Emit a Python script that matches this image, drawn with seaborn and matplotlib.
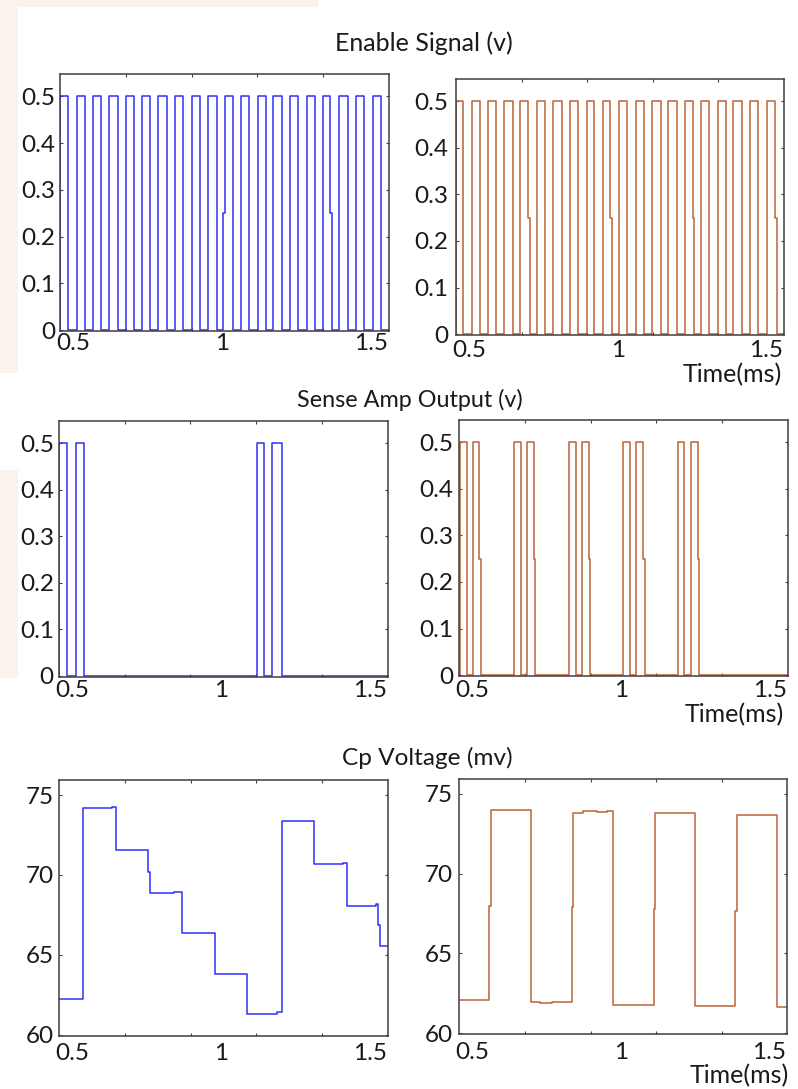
import matplotlib
matplotlib.use("Agg")
import matplotlib.pyplot as plt
import seaborn as sns
from matplotlib.patches import Rectangle
from matplotlib.ticker import FixedLocator

# ---------------- data (time in ms) ----------------
# Enable signal, left (blue)
enable_l_t = [0.455, 0.456, 0.483, 0.511, 0.539, 0.565, 0.593, 0.621, 0.649, 0.677, 0.705,
              0.729, 0.757, 0.785, 0.813, 0.841, 0.869, 0.897, 0.925, 0.953, 0.981,
              1.004, 1.010, 1.035, 1.063, 1.091, 1.119, 1.147, 1.172, 1.200, 1.228, 1.256,
              1.283, 1.311, 1.337, 1.362, 1.369, 1.393, 1.421, 1.449, 1.477, 1.505, 1.533, 1.560]
enable_l_v = [0, 0.5, 0, 0.5, 0, 0.5, 0, 0.5, 0, 0.5, 0,
              0.5, 0, 0.5, 0, 0.5, 0, 0.5, 0, 0.5, 0,
              0.25, 0.5, 0, 0.5, 0, 0.5, 0, 0.5, 0, 0.5, 0,
              0.5, 0, 0.5, 0.25, 0, 0.5, 0, 0.5, 0, 0.5, 0, 0]

# Enable signal, right (brown)
enable_r_t = [0.455, 0.456, 0.480, 0.508, 0.536, 0.562, 0.590, 0.618, 0.646, 0.671, 0.699, 0.705,
              0.727, 0.755, 0.783, 0.811, 0.839, 0.867, 0.895, 0.921, 0.949, 0.974, 0.980,
              1.005, 1.032, 1.061, 1.088, 1.116, 1.145, 1.170, 1.198, 1.226, 1.252, 1.258,
              1.280, 1.308, 1.337, 1.365, 1.389, 1.417, 1.445, 1.474, 1.502, 1.530, 1.536, 1.560]
enable_r_v = [0, 0.5, 0, 0.5, 0, 0.5, 0, 0.5, 0, 0.5, 0.25, 0,
              0.5, 0, 0.5, 0, 0.5, 0, 0.5, 0, 0.5, 0.25, 0,
              0.5, 0, 0.5, 0, 0.5, 0, 0.5, 0, 0.5, 0.25, 0,
              0.5, 0, 0.5, 0, 0.5, 0, 0.5, 0, 0.5, 0.25, 0, 0]

# Sense amp output, left (blue)
sense_l_t = [0.455, 0.456, 0.482, 0.513, 0.540, 1.119, 1.145, 1.172, 1.203, 1.560]
sense_l_v = [0, 0.5, 0, 0.5, 0, 0.5, 0, 0.5, 0, 0]

# Sense amp output, right (brown)
sense_r_t = [0.455, 0.456, 0.480, 0.500, 0.521, 0.527, 0.640, 0.661, 0.684, 0.706, 0.711,
             0.824, 0.847, 0.867, 0.891, 0.896, 1.006, 1.029, 1.050, 1.074, 1.080,
             1.190, 1.212, 1.234, 1.257, 1.263, 1.560]
sense_r_v = [0, 0.5, 0, 0.5, 0.25, 0, 0.5, 0, 0.5, 0.25, 0,
             0.5, 0, 0.5, 0.25, 0, 0.5, 0, 0.5, 0.25, 0,
             0.5, 0, 0.5, 0.25, 0, 0]

# Cp voltage, left (blue), mV
cp_l_t = [0.455, 0.538, 0.633, 0.647, 0.756, 0.761, 0.842, 0.867, 0.979, 1.087,
          1.186, 1.202, 1.311, 1.407, 1.420, 1.519, 1.527, 1.532, 1.560]
cp_l_v = [62.23, 74.17, 74.25, 71.56, 70.2, 68.88, 68.96, 66.38, 63.83, 61.31,
          61.40, 73.35, 70.67, 70.77, 68.06, 68.17, 66.9, 65.54, 65.54]

# Cp voltage, right (brown), mV
cp_r_t = [0.455, 0.556, 0.561, 0.696, 0.727, 0.766, 0.833, 0.838, 0.871, 0.918, 0.951,
          0.974, 1.111, 1.115, 1.249, 1.385, 1.389, 1.525, 1.560]
cp_r_v = [62.08, 68.0, 74.0, 61.95, 61.87, 61.95, 67.94, 73.83, 73.96, 73.9, 73.96,
          61.78, 67.76, 73.79, 61.68, 67.69, 73.68, 61.62, 61.62]

x_ticks = [0.5, 1, 1.5]
x_ticklabels = ["0.5", "1", "1.5"]
v_ticks = [0, 0.1, 0.2, 0.3, 0.4, 0.5]
v_ticklabels = ["0", "0.1", "0.2", "0.3", "0.4", "0.5"]
mv_ticks = [60, 65, 70, 75]
mv_ticklabels = ["60", "65", "70", "75"]

titles = ["Enable Signal (v)", "Sense Amp Output (v)", "Cp Voltage (mv)"]
title_sizes = [18, 16.8, 17.6]
xlabel_text = "Time(ms)"

# ---------------- style ----------------
sns.set_style("white")
plt.rcParams['font.family'] = ['Lato', 'DejaVu Sans']

BLUE = "#2f2fff"
BROWN = "#bd6238"
FRAME = "#3f3f3f"
TXT = "#1a1a1a"
XLIM = (0.455, 1.56)
FS_TICK = 17.5

W, H = 798, 1089
fig = plt.figure(figsize=(W / 100, H / 100), dpi=100)
fig.patch.set_facecolor("white")

# faint slide background
PEACH = "#fcf2ed"
def px_rect(x0, y0, x1, y1):
    fig.add_artist(Rectangle((x0 / W, 1 - y1 / H), (x1 - x0) / W, (y1 - y0) / H,
                             transform=fig.transFigure, facecolor=PEACH,
                             edgecolor="none", zorder=0))
px_rect(0, 0, 318, 7)
px_rect(0, 0, 18, 373)
px_rect(0, 470, 18, 678)


def panel(box, t, v, color, ylim, yt, ytl, xpad, ypad):
    x0, y0, x1, y1 = box
    ax = fig.add_axes([x0 / W, 1 - y1 / H, (x1 - x0) / W, (y1 - y0) / H])
    sns.lineplot(x=t, y=v, ax=ax, color=color, drawstyle="steps-post",
                 estimator=None, sort=False, linewidth=1.1, legend=False)
    ax.set_xlim(XLIM)
    ax.set_ylim(ylim)
    ax.set_xlabel("")
    ax.set_ylabel("")
    ax.set_xticks(x_ticks)
    ax.set_xticklabels(x_ticklabels)
    div = [XLIM[0] + k * (XLIM[1] - XLIM[0]) / 5 for k in range(1, 5)]
    ax.xaxis.set_minor_locator(FixedLocator(div))
    ax.set_yticks(yt)
    ax.set_yticklabels(ytl)
    ax.tick_params(axis="x", which="major", length=0, pad=xpad,
                   labelsize=FS_TICK, labelcolor=TXT)
    ax.tick_params(axis="x", which="minor", direction="in", length=2.5,
                   width=0.8, color=FRAME, top=True, bottom=True)
    ax.tick_params(axis="y", which="major", direction="in", length=2.5,
                   width=0.8, color=FRAME, left=True, right=True,
                   pad=ypad, labelsize=FS_TICK, labelcolor=TXT)
    for s in ax.spines.values():
        s.set_color(FRAME)
        s.set_linewidth(1.1)
        s.set_visible(True)
    ax.set_facecolor("white")
    return ax


VLIM = (-0.002, 0.548)
MVLIM = (59.93, 75.94)

panel((60, 74, 389, 331), enable_l_t, enable_l_v, BLUE, VLIM, v_ticks, v_ticklabels, 1.5, 3.5)
panel((456, 79, 784, 335), enable_r_t, enable_r_v, BROWN, VLIM, v_ticks, v_ticklabels, 3.5, 5.5)
panel((58.7, 420.7, 388, 676.7), sense_l_t, sense_l_v, BLUE, VLIM, v_ticks, v_ticklabels, 2.2, 3.5)
panel((459.3, 420, 787.7, 676), sense_r_t, sense_r_v, BROWN, VLIM, v_ticks, v_ticklabels, 3, 4.5)
panel((58.7, 780, 388.3, 1036), cp_l_t, cp_l_v, BLUE, MVLIM, mv_ticks, mv_ticklabels, 5, 3.5)
panel((459.3, 779, 787.3, 1034.3), cp_r_t, cp_r_v, BROWN, MVLIM, mv_ticks, mv_ticklabels, 5.5, 4.5)

# row titles
for (cx, by), txt, fs in zip([(424, 51), (410, 407), (427, 765)], titles, title_sizes):
    fig.text(cx / W, 1 - by / H, txt, ha="center", va="baseline",
             fontsize=fs, color=TXT)

# x-axis labels under right column
for rx, by in [(782, 382), (784, 722), (789, 1083)]:
    fig.text(rx / W, 1 - by / H, xlabel_text, ha="right", va="baseline",
             fontsize=18, color=TXT)

fig.savefig("out.png", dpi=100, facecolor="white")
